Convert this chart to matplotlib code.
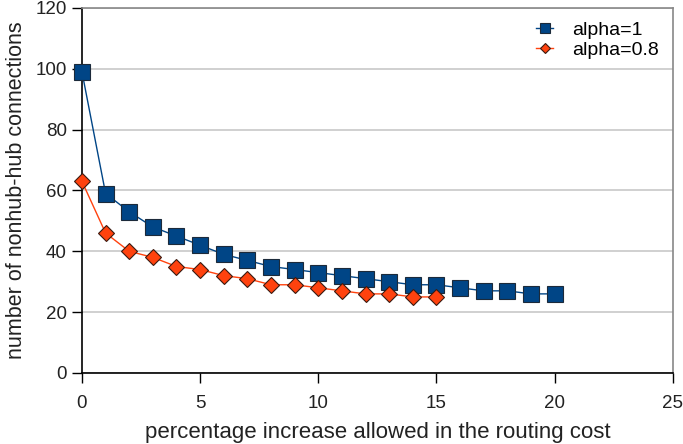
import matplotlib
matplotlib.use("Agg")
import matplotlib.pyplot as plt

plt.rcParams['font.family'] = ['Liberation Sans', 'DejaVu Sans']

x_blue = list(range(0, 21))
alpha1 = [99, 59, 53, 48, 45, 42, 39, 37, 35, 34, 33, 32, 31, 30, 29, 29, 28, 27, 27, 26, 26]
x_orange = list(range(0, 16))
alpha08 = [63, 46, 40, 38, 35, 34, 32, 31, 29, 29, 28, 27, 26, 26, 25, 25]

xticks = [0, 5, 10, 15, 20, 25]
yticks = [0, 20, 40, 60, 80, 100, 120]

fig = plt.figure(figsize=(6.83, 4.44), dpi=100)
ax = fig.add_axes([0.12, 0.16, 0.865, 0.822])

blue = '#004586'
orange = '#ff420e'

ax.plot(x_blue, alpha1, color=blue, lw=1.0, marker='s', markersize=11,
        markerfacecolor=blue, markeredgecolor='#1c2a3a', markeredgewidth=0.8,
        label='alpha=1', zorder=3, clip_on=False)
ax.plot(x_orange, alpha08, color=orange, lw=1.0, marker='D', markersize=8,
        markerfacecolor=orange, markeredgecolor='#3a1a10', markeredgewidth=0.8,
        label='alpha=0.8', zorder=4, clip_on=False)

ax.set_xlim(0, 25)
ax.set_ylim(0, 120)
ax.set_xticks(xticks)
ax.set_yticks(yticks)
ax.yaxis.grid(True, color='#c8c8c8', lw=1.2)
ax.set_axisbelow(True)

for s in ['top', 'right']:
    ax.spines[s].set_color('#888888')
    ax.spines[s].set_linewidth(1.2)
for s in ['left', 'bottom']:
    ax.spines[s].set_color('black')
    ax.spines[s].set_linewidth(1.2)

ax.tick_params(axis='both', direction='out', length=7, width=1.0, labelsize=13.5,
               colors='black', labelcolor='#222222')
ax.tick_params(axis='x', pad=9)
ax.tick_params(axis='y', pad=4)

ax.set_xlabel('percentage increase allowed in the routing cost', fontsize=16,
              labelpad=7, color='#222222')
ax.set_ylabel('number of nonhub-hub connections', fontsize=15.5, labelpad=6, color='#222222')

leg = ax.legend(loc='upper right', frameon=False, fontsize=14, handlelength=0.85,
                handletextpad=1.0, labelspacing=0.1, borderaxespad=0.3, borderpad=0.4,
                markerscale=0.65)

fig.savefig('out.png', dpi=100)
